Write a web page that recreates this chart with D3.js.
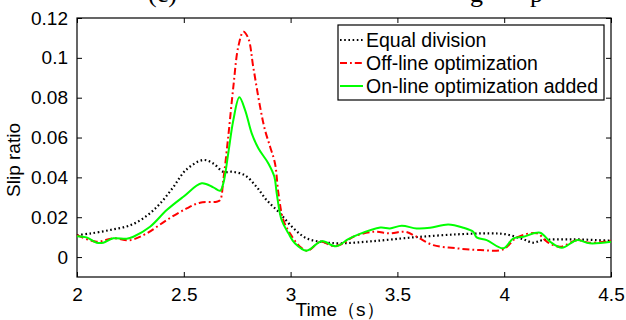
<!DOCTYPE html>
<html>
<head>
<meta charset="utf-8">
<script src="https://cdn.jsdelivr.net/npm/d3@7"></script>
<style>
  body { margin: 0; background: #fff; }
  svg { display: block; }
  text { font-family: "Liberation Sans", Arial, sans-serif; }
</style>
</head>
<body>
<div id="chart"></div>
<script>
// series: time (s) and slip ratio
let equalT = [2.0, 2.06, 2.155, 2.25, 2.33, 2.39, 2.45, 2.51, 2.59, 2.638, 2.685, 2.73, 2.787, 2.84, 2.888, 2.95, 3.013, 3.075, 3.153, 3.23, 3.387, 3.575, 3.778, 3.934, 4.01, 4.09, 4.136, 4.18, 4.32, 4.5]
let equalV = [0.011, 0.0118, 0.0136, 0.016, 0.021, 0.027, 0.035, 0.0437, 0.0487, 0.047, 0.0428, 0.0428, 0.041, 0.0353, 0.0286, 0.022, 0.0145, 0.0094, 0.0075, 0.0069, 0.008, 0.0099, 0.0114, 0.0119, 0.0114, 0.0089, 0.0072, 0.0085, 0.0089, 0.0082]

let offT = [2.0, 2.092, 2.17, 2.248, 2.326, 2.42, 2.513, 2.576, 2.654, 2.67, 2.685, 2.708, 2.732, 2.755, 2.779, 2.802, 2.825, 2.857, 2.88, 2.904, 2.927, 2.943, 2.966, 2.997, 3.044, 3.08, 3.14, 3.2, 3.247, 3.294, 3.387, 3.465, 3.536, 3.59, 3.668, 3.778, 3.887, 3.996, 4.06, 4.153, 4.2, 4.262, 4.34, 4.4, 4.5]
let offV = [0.011, 0.0077, 0.0094, 0.0085, 0.0119, 0.0186, 0.0244, 0.0273, 0.0278, 0.0286, 0.0387, 0.0604, 0.0855, 0.1056, 0.1131, 0.1098, 0.0955, 0.0755, 0.0638, 0.0554, 0.047, 0.032, 0.0186, 0.0119, 0.0052, 0.0032, 0.0077, 0.0055, 0.0069, 0.0102, 0.0127, 0.0119, 0.0127, 0.0102, 0.006, 0.0044, 0.0035, 0.0039, 0.0099, 0.0119, 0.0077, 0.0052, 0.0085, 0.0072, 0.0082]

let onT = [2.0, 2.045, 2.092, 2.123, 2.17, 2.233, 2.264, 2.342, 2.42, 2.498, 2.584, 2.638, 2.67, 2.685, 2.708, 2.732, 2.76, 2.787, 2.818, 2.849, 2.896, 2.924, 2.935, 2.958, 2.99, 3.02, 3.075, 3.145, 3.213, 3.27, 3.31, 3.42, 3.465, 3.52, 3.59, 3.653, 3.738, 3.81, 3.855, 3.871, 3.918, 3.996, 4.043, 4.09, 4.168, 4.215, 4.27, 4.34, 4.4, 4.5]
let onV = [0.0105, 0.0099, 0.0072, 0.0072, 0.0094, 0.0092, 0.0102, 0.0152, 0.0236, 0.0303, 0.037, 0.035, 0.0333, 0.037, 0.052, 0.0688, 0.0802, 0.0738, 0.0621, 0.0546, 0.047, 0.0403, 0.032, 0.0186, 0.0119, 0.0069, 0.0032, 0.008, 0.0054, 0.009, 0.011, 0.0148, 0.0144, 0.0157, 0.0144, 0.0147, 0.0164, 0.0147, 0.0127, 0.0099, 0.0085, 0.0044, 0.0094, 0.0102, 0.0122, 0.0077, 0.0047, 0.0085, 0.0069, 0.0077]

let seriesNames = ["Equal division", "Off-line optimization", "On-line optimization added"]
let xTicks = [2, 2.5, 3, 3.5, 4, 4.5]
let yTicks = [0, 0.02, 0.04, 0.06, 0.08, 0.1, 0.12]

let W = 626, H = 320
let plotL = 77, plotR = 611, plotT = 18, plotB = 277

let svg = d3.select("#chart").append("svg")
    .attr("width", W)
    .attr("height", H)

// caption above the plot is cut by the top edge in the original, only its lowest strokes show
let capFont = "'Liberation Serif', 'Times New Roman', serif"
let capBits = [["(c)", 148], ["g", 470], ["p", 530]]
capBits.forEach(b => {
    svg.append("text")
        .attr("x", b[1]).attr("y", 2)
        .style("font-family", capFont)
        .style("font-size", "26px")
        .text(b[0])
})

let x = d3.scaleLinear().domain([2, 4.5]).range([plotL, plotR])
let y = d3.scaleLinear().domain([-0.01, 0.12]).range([plotB, plotT])

// box
svg.append("rect")
    .attr("x", plotL).attr("y", plotT)
    .attr("width", plotR - plotL).attr("height", plotB - plotT)
    .attr("fill", "none").attr("stroke", "#000").attr("stroke-width", 1.2)

// axes with inward ticks on all four sides
svg.append("g").attr("transform", `translate(0,${plotB})`)
    .call(d3.axisBottom(x).tickValues(xTicks).tickSize(-5).tickPadding(11).tickFormat(d => String(d)))
svg.append("g").attr("transform", `translate(0,${plotT})`)
    .call(d3.axisTop(x).tickValues(xTicks).tickSize(-5).tickFormat(""))
svg.append("g").attr("transform", `translate(${plotL},0)`)
    .call(d3.axisLeft(y).tickValues(yTicks).tickSize(-5).tickPadding(9).tickFormat(d => String(d)))
svg.append("g").attr("transform", `translate(${plotR},0)`)
    .call(d3.axisRight(y).tickValues(yTicks).tickSize(-5).tickFormat(""))

svg.selectAll(".domain").remove()
svg.selectAll(".tick line").attr("stroke", "#000").attr("stroke-width", 1)
svg.selectAll(".tick text")
    .style("font-family", "'Liberation Sans', Arial, sans-serif")
    .style("font-size", "19px")
    .attr("fill", "#000")

// axis titles
svg.append("text")
    .attr("x", 340).attr("y", 316)
    .attr("text-anchor", "middle")
    .style("font-size", "19px")
    .text("Time（s）")
svg.append("text")
    .attr("transform", "translate(20,160) rotate(-90)")
    .attr("text-anchor", "middle")
    .style("font-size", "19px")
    .text("Slip ratio")

let line = d3.line()
    .x(d => x(d[0]))
    .y(d => y(d[1]))
    .curve(d3.curveCatmullRom.alpha(0.5))

let styles = [
    { color: "#000", dash: "1.6,2.6", width: 2.2 },
    { color: "#ff0000", dash: "7,3,1.8,3", width: 2 },
    { color: "#00ff00", dash: null, width: 2 }
]
let data = [
    d3.zip(equalT, equalV),
    d3.zip(offT, offV),
    d3.zip(onT, onV)
]

data.forEach((pts, i) => {
    svg.append("path")
        .datum(pts)
        .attr("d", line)
        .attr("fill", "none")
        .attr("stroke", styles[i].color)
        .attr("stroke-width", styles[i].width)
        .attr("stroke-dasharray", styles[i].dash)
})

// legend
let lg = svg.append("g")
lg.append("rect")
    .attr("x", 338).attr("y", 25)
    .attr("width", 266).attr("height", 75)
    .attr("fill", "#fff").attr("stroke", "#000").attr("stroke-width", 1.2)

seriesNames.forEach((name, i) => {
    let cy = 40 + i * 23
    lg.append("line")
        .attr("x1", 340).attr("x2", 363)
        .attr("y1", cy).attr("y2", cy)
        .attr("stroke", styles[i].color)
        .attr("stroke-width", styles[i].width)
        .attr("stroke-dasharray", styles[i].dash)
    lg.append("text")
        .attr("x", 366).attr("y", cy)
        .attr("dy", "0.36em")
        .style("font-size", "19.5px")
        .text(name)
})
</script>
</body>
</html>
